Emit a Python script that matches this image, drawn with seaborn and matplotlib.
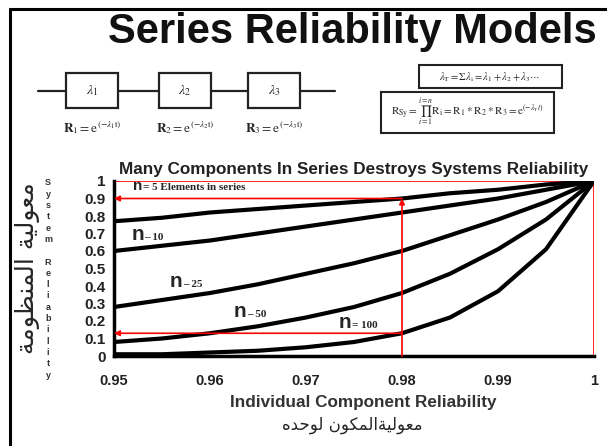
import numpy as np
import pandas as pd
import seaborn as sns
import matplotlib.pyplot as plt
from matplotlib.patches import Rectangle
from matplotlib.lines import Line2D

# component reliability (x) and system reliability for n components in series
reliability = [0.95, 0.955, 0.96, 0.965, 0.97, 0.975, 0.98, 0.985, 0.99, 0.995, 1.0]
n5 = [0.77, 0.79, 0.82, 0.84, 0.86, 0.88, 0.90, 0.93, 0.95, 0.98, 1.0]
n10 = [0.60, 0.63, 0.66, 0.70, 0.74, 0.78, 0.82, 0.86, 0.90, 0.95, 1.0]
n25 = [0.28, 0.32, 0.36, 0.41, 0.47, 0.53, 0.60, 0.69, 0.78, 0.88, 1.0]
n50 = [0.08, 0.10, 0.13, 0.17, 0.22, 0.28, 0.36, 0.47, 0.61, 0.78, 1.0]
n100 = [0.01, 0.01, 0.02, 0.03, 0.05, 0.08, 0.13, 0.22, 0.37, 0.61, 1.0]
series_n = [5, 10, 25, 50, 100]
x_ticks = [0.95, 0.96, 0.97, 0.98, 0.99, 1]
x_tick_labels = ['0.95', '0.96', '0.97', '0.98', '0.99', '1']
y_ticks = [0, 0.1, 0.2, 0.3, 0.4, 0.5, 0.6, 0.7, 0.8, 0.9, 1]
y_tick_labels = ['0', '0.1', '0.2', '0.3', '0.4', '0.5', '0.6', '0.7', '0.8', '0.9', '1']
target_r = 0.98

# arabic presentation forms: isolated, final, initial, medial
FORMS = {
    'ا': ('\ufe8d', '\ufe8e', None, None),
    'ة': ('\ufe93', '\ufe94', None, None),
    'ح': ('\ufea1', '\ufea2', '\ufea3', '\ufea4'),
    'د': ('\ufea9', '\ufeaa', None, None),
    'ظ': ('\ufec5', '\ufec6', '\ufec7', '\ufec8'),
    'ع': ('\ufec9', '\ufeca', '\ufecb', '\ufecc'),
    'ك': ('\ufed9', '\ufeda', '\ufedb', '\ufedc'),
    'ل': ('\ufedd', '\ufede', '\ufedf', '\ufee0'),
    'م': ('\ufee1', '\ufee2', '\ufee3', '\ufee4'),
    'ن': ('\ufee5', '\ufee6', '\ufee7', '\ufee8'),
    'ه': ('\ufee9', '\ufeea', '\ufeeb', '\ufeec'),
    'و': ('\ufeed', '\ufeee', None, None),
    'ي': ('\ufef1', '\ufef2', '\ufef3', '\ufef4'),
}


def shape(text):
    out = []
    for i, ch in enumerate(text):
        if ch not in FORMS:
            out.append(ch)
            continue
        prev = text[i - 1] if i > 0 else ''
        nxt = text[i + 1] if i + 1 < len(text) else ''
        join_prev = prev in FORMS and FORMS[prev][2] is not None
        join_next = nxt in FORMS and FORMS[ch][2] is not None
        iso, fin, ini, med = FORMS[ch]
        if join_prev and join_next:
            out.append(med)
        elif join_prev:
            out.append(fin)
        elif join_next:
            out.append(ini)
        else:
            out.append(iso)
    return ''.join(reversed(out))


sns.set_style("white")
plt.rcParams['font.family'] = ['Liberation Sans', 'DejaVu Sans']
plt.rcParams['mathtext.fontset'] = 'stix'

fig = plt.figure(figsize=(6.07, 4.46), dpi=100)

# overlay in pixel coords for diagram and free text
ov = fig.add_axes([0, 0, 1, 1])
ov.set_xlim(0, 607)
ov.set_ylim(446, 0)
ov.axis('off')

# frame lines top / left
ov.add_line(Line2D([10, 10], [9, 446], color='black', lw=2.2))
ov.add_line(Line2D([10, 607], [9, 9], color='black', lw=2.2))

ov.text(352, 32, 'Series Reliability Models', fontsize=30, fontweight='bold',
        ha='center', va='center', color='#111111')

# block diagram
ov.add_line(Line2D([38, 335], [91, 91], color='#222222', lw=1.6))
for k, cx in enumerate([92, 185, 274]):
    ov.add_patch(Rectangle((cx - 26, 73), 52, 35, fc='white', ec='#222222', lw=1.6, zorder=3))
    ov.text(cx, 91, r'$\lambda_%d$' % (k + 1), fontsize=10, ha='center', va='center', zorder=4)
    ov.text(cx, 128, r'$\mathbf{R}_%d = \mathrm{e}^{(-\lambda_%d \mathrm{t})}$' % (k + 1, k + 1),
            fontsize=9.5, ha='center', va='center')

ov.add_patch(Rectangle((419, 65), 143, 23, fc='none', ec='#222222', lw=1.5))
ov.text(490, 77, r'$\lambda_\mathrm{T} = \Sigma\lambda_\mathrm{i} = \lambda_1 + \lambda_2 + \lambda_3 \cdots$',
        fontsize=7.5, ha='center', va='center')
ov.add_patch(Rectangle((381, 92), 173, 41, fc='none', ec='#222222', lw=1.5))
ov.text(467, 112, r'$\mathrm{R_{Sy}} = \prod_{i=1}^{i=n}\mathrm{R_i} = \mathrm{R_1 * R_2 * R_3} = \mathrm{e}^{(-\lambda_\mathrm{T} t)}$',
        fontsize=8, ha='center', va='center')

# left side labels
ov.text(28, 268, shape('معولية المنظومة'), family=['DejaVu Sans'], fontsize=18,
        rotation=90, ha='center', va='center')
ov.text(48, 279, '\n'.join('System Reliability'), fontsize=6.5, fontweight='bold',
        color='#333333', ha='center', va='center', linespacing=1.33)
ov.text(352, 425, shape('معوليةالمكون لوحده'), family=['DejaVu Sans'], fontsize=12,
        ha='center', va='center')

# main chart
ax = fig.add_axes([114 / 607, 90 / 446, 480 / 607, 175 / 446])
ax.set_facecolor('none')

df = pd.DataFrame({
    'R': reliability * len(series_n),
    'Rsys': n5 + n10 + n25 + n50 + n100,
    'n': np.repeat(series_n, len(reliability)),
})
sns.lineplot(data=df, x='R', y='Rsys', units='n', estimator=None, color='black',
             lw=3, ax=ax, zorder=3)

ax.set_xlim(0.95, 1)
ax.set_ylim(0, 1)
ax.set_xticks(x_ticks)
ax.set_xticklabels(x_tick_labels, fontsize=10.5, fontweight='bold', color='#222222')
ax.set_yticks(y_ticks)
ax.set_yticklabels(y_tick_labels, fontsize=11, fontweight='bold', color='#222222')
ax.set_yticks(np.arange(0, 1.0, 0.025), minor=True)
ax.tick_params(axis='both', which='major', direction='inout', length=6, width=1.4, color='black', pad=3)
ax.tick_params(axis='y', which='minor', direction='inout', length=4, width=1.0, color='black')
ax.tick_params(axis='x', pad=10)
for s in ['top', 'right']:
    ax.spines[s].set_visible(False)
for s in ['left', 'bottom']:
    ax.spines[s].set_linewidth(2.5)
    ax.spines[s].set_color('black')

ax.set_title('Many Components In Series Destroys Systems Reliability', fontsize=12.3,
             fontweight='bold', pad=5, color='#222222')
ax.set_xlabel('Individual Component Reliability', fontsize=12.3, fontweight='bold',
              color='#333333')
ax.xaxis.set_label_coords(0.52, -0.225)
ax.set_ylabel('')

# red guide lines
ax.axhline(1, color='red', lw=1.2, zorder=2)
ax.axvline(1, color='red', lw=1.2, zorder=2)
i_t = reliability.index(target_r)
arrow = dict(arrowstyle='-|>', color='red', lw=1.2, mutation_scale=8, shrinkA=0, shrinkB=0)
ax.annotate('', xy=(target_r, n5[i_t]), xytext=(target_r, 0), arrowprops=arrow, zorder=4)
ax.annotate('', xy=(0.95, n5[i_t]), xytext=(target_r, n5[i_t]), arrowprops=arrow, zorder=4)
ax.annotate('', xy=(0.95, n100[i_t]), xytext=(target_r, n100[i_t]), arrowprops=arrow, zorder=4)

# curve labels
labels = [('= 5 Elements in series', 0.952, 0.95, 11),
          ('– 10', 0.9518, 0.663, 15),
          ('– 25', 0.9558, 0.394, 15),
          ('– 50', 0.9625, 0.223, 15),
          ('= 100', 0.9734, 0.16, 15)]
for rest, lx, ly, fs in labels:
    ax.text(lx, ly, 'n', fontsize=fs, fontweight='bold', va='baseline', ha='left')
    ax.annotate(rest, xy=(lx, ly), xytext=(fs * 0.62, 0), textcoords='offset points',
                fontsize=8, fontweight='bold', family=['Liberation Serif'], va='baseline')

plt.savefig('out.png', dpi=100)
